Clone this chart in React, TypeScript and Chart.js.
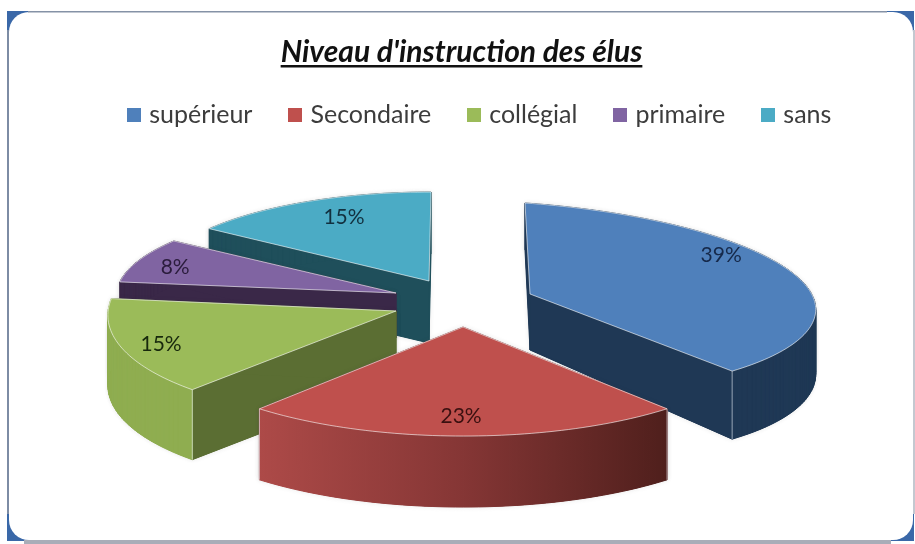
import React, { useEffect, useRef } from "react";
import { Chart, registerables } from "chart.js";

Chart.register(...registerables);

const TITLE = "Niveau d'instruction des élus";
const CATEGORIES = ["supérieur", "Secondaire", "collégial", "primaire", "sans"];
const VALUES = [39, 23, 15, 8, 15];
const COLORS = ["#4f80bb", "#bf504d", "#9bbb59", "#8064a2", "#4babc5"];
const WALLS = ["#1f3855", "#7a3030", "#5b6e33", "#3a2848", "#1f4f5b"];
const RIMS = ["#1f3855", "", "#8fad50", "#3a2848", "#1f4f5b"];
const LABEL_COLORS = ["#16294a", "#3a1010", "#17280c", "#2a1c3c", "#12303f"];
const RED_WALL_STOPS = ["#ad4a48", "#853635", "#4f1f1c"];

// Projection of each exploded slice: apex, unit vectors of the disc, perspective, wall depth.
const APEX = [[530, 294], [463, 327], [396, 311], [396, 293], [429, 281]];
const RIGHT = [[325.5, 10.3], [308, -3.4], [288, -1], [279, 0], [273, 0]];
const UP = [[-5.3, -96.2], [-10, -109], [9, -107], [6, -88.5], [2, -89]];
const PERSPECTIVE = [[0.142, 0.057], [0, 0], [0, 0], [0, 0], [0, 0]];
const DEPTH = [[56, 8, -9], [71, 0, 0], [70, 0, 0], [45, 0, 0], [62, 0, 0]];
const LABEL_RADIUS = [0.85, 0.82, 0.86, 0.85, 0.786];
const LABEL_SWEEP = [0.37, 0.506, 0.49, 0.45, 0.56];
const DRAW_ORDER = [4, 3, 2, 0, 1];

type P = [number, number];

function project(i: number, s: number, c: number): P {
  const w = 1 + PERSPECTIVE[i][0] * s + PERSPECTIVE[i][1] * c;
  return [
    APEX[i][0] + (s * RIGHT[i][0] + c * UP[i][0]) / w,
    APEX[i][1] + (s * RIGHT[i][1] + c * UP[i][1]) / w,
  ];
}

function depthAt(i: number, s: number, c: number) {
  return DEPTH[i][0] + DEPTH[i][1] * s + DEPTH[i][2] * c;
}

function sliceOutline(i: number, start: number, end: number) {
  const pts: { p: P; d: number }[] = [{ p: project(i, 0, 0), d: depthAt(i, 0, 0) }];
  const n = Math.max(12, Math.round((end - start) * 40));
  for (let k = 0; k <= n; k++) {
    const t = start + ((end - start) * k) / n + Math.PI / 2;
    const s = Math.sin(t);
    const c = Math.cos(t);
    pts.push({ p: project(i, s, c), d: depthAt(i, s, c) });
  }
  return pts;
}

const piePlugin = {
  id: "projectedPie",
  beforeDatasetsDraw(chart: any) {
    const ctx = chart.ctx;
    const arcs = chart.getDatasetMeta(0).data;
    const total = VALUES.reduce((a, b) => a + b, 0);
    for (const i of DRAW_ORDER) {
      const { startAngle, endAngle } = arcs[i].getProps(["startAngle", "endAngle"], true);
      const pts = sliceOutline(i, startAngle, endAngle);
      const ring = [...pts, pts[0]];

      let rim: any = RIMS[i];
      if (!rim) {
        const xs = pts.map((q) => q.p[0]);
        const g = ctx.createLinearGradient(Math.min(...xs), 0, Math.max(...xs), 0);
        RED_WALL_STOPS.forEach((col, k) => g.addColorStop(k / (RED_WALL_STOPS.length - 1), col));
        rim = g;
      }
      // the two cut faces first, then the curved rim in front of them
      const order: number[] = [0, ring.length - 2];
      for (let k = 1; k < ring.length - 2; k++) order.push(k);
      const quads = (shadow: boolean) => {
        ctx.save();
        if (shadow) {
          ctx.shadowColor = "rgba(60,60,60,0.14)";
          ctx.shadowBlur = 5;
        }
        ctx.lineWidth = 1;
        for (const k of order) {
          const isCut = k === 0 || k === ring.length - 2;
          const a = ring[k];
          const b = ring[k + 1];
          ctx.fillStyle = isCut ? WALLS[i] : rim;
          ctx.strokeStyle = ctx.fillStyle;
          ctx.beginPath();
          ctx.moveTo(a.p[0], a.p[1]);
          ctx.lineTo(b.p[0], b.p[1]);
          ctx.lineTo(b.p[0], b.p[1] + b.d);
          ctx.lineTo(a.p[0], a.p[1] + a.d);
          ctx.closePath();
          ctx.fill();
          if (!shadow) ctx.stroke();
        }
        ctx.restore();
      };
      quads(true);
      quads(false);

      // pale corner lines on the front of the wall
      ctx.save();
      ctx.strokeStyle = "rgba(235,240,248,0.6)";
      ctx.lineWidth = 1;
      for (const q of [pts[1], pts[pts.length - 1]]) {
        const t = q.p;
        if (t[1] > APEX[i][1] + 20) {
          ctx.beginPath();
          ctx.moveTo(t[0], t[1]);
          ctx.lineTo(t[0], t[1] + q.d);
          ctx.stroke();
        }
      }
      ctx.restore();

      // top face
      ctx.save();
      ctx.beginPath();
      pts.forEach((q, k) => (k ? ctx.lineTo(q.p[0], q.p[1]) : ctx.moveTo(q.p[0], q.p[1])));
      ctx.closePath();
      ctx.fillStyle = arcs[i].options.backgroundColor;
      ctx.fill();
      ctx.strokeStyle = "rgba(255,255,255,0.6)";
      ctx.lineWidth = 1;
      ctx.lineJoin = "round";
      ctx.stroke();
      ctx.restore();

      // percentage label
      const t = startAngle + (endAngle - startAngle) * LABEL_SWEEP[i] + Math.PI / 2;
      const [lx, ly] = project(i, Math.sin(t) * LABEL_RADIUS[i], Math.cos(t) * LABEL_RADIUS[i]);
      ctx.save();
      ctx.font = "21px Lato";
      ctx.textAlign = "center";
      ctx.textBaseline = "middle";
      ctx.fillStyle = LABEL_COLORS[i];
      ctx.fillText(`${Math.round((VALUES[i] / total) * 100)}%`, lx, ly);
      ctx.restore();
    }
    return false;
  },
};

const framePlugin = {
  id: "frame",
  beforeDraw(chart: any) {
    const ctx = chart.ctx;
    const { width, height } = chart;
    ctx.save();
    ctx.fillStyle = "#ffffff";
    ctx.fillRect(0, 0, width, height);
    ctx.fillStyle = "#3a68a8";
    ctx.fillRect(7, 11, width - 8, height - 14);
    ctx.fillStyle = "#ffffff";
    ctx.beginPath();
    ctx.roundRect(9, 12, width - 11, height - 16, 20);
    ctx.fill();
    ctx.fillStyle = "#7d8ca4";
    ctx.fillRect(7, 30, 2, height - 60);
    ctx.fillStyle = "#8592a6";
    ctx.fillRect(28, 11, width - 56, 1.5);
    ctx.fillStyle = "#c4c8d0";
    ctx.fillRect(width - 2, 30, 2, height - 60);
    ctx.fillStyle = "#a9adb8";
    ctx.fillRect(24, height - 4, width - 48, 4);
    ctx.restore();
  },
  afterLayout(chart: any) {
    // the legend sits to the right of the centred title and closer to it
    chart.legend.left += 20;
    chart.legend.right += 20;
    chart.legend.top -= 28;
    chart.legend.bottom -= 28;
  },
  afterDraw(chart: any) {
    const ctx = chart.ctx;
    const box = chart.titleBlock;
    const font = box.options.font;
    ctx.save();
    ctx.font = `${font.style} ${font.weight} ${font.size}px ${font.family}`;
    const w = ctx.measureText(TITLE).width;
    const cx = (box.left + box.right) / 2;
    ctx.fillStyle = "#111111";
    ctx.fillRect(cx - w / 2, box.bottom - box.options.padding.bottom - 5, w, 2.5);
    ctx.restore();
  },
};

export default function App() {
  const ref = useRef<HTMLCanvasElement>(null);
  useEffect(() => {
    const swatches = COLORS.map((col) => {
      const c = document.createElement("canvas");
      c.width = 14;
      c.height = 14;
      const g = c.getContext("2d")!;
      g.fillStyle = col;
      g.fillRect(0, 0, 14, 14);
      return c;
    });
    const chart = new Chart(ref.current!, {
      type: "pie",
      data: {
        labels: CATEGORIES,
        datasets: [{ data: VALUES, backgroundColor: COLORS, borderWidth: 0 }],
      },
      plugins: [framePlugin, piePlugin],
      options: {
        responsive: false,
        animation: false,
        events: [],
        layout: { padding: { top: 34, left: 8, right: 0, bottom: 20 } },
        plugins: {
          tooltip: { enabled: false },
          title: {
            display: true,
            text: TITLE,
            color: "#111111",
            font: { family: "Lato", size: 30, style: "italic", weight: "bold" },
            padding: { top: 0, bottom: 20 },
          },
          legend: {
            display: true,
            position: "top",
            labels: {
              usePointStyle: true,
              pointStyleWidth: 5,
              padding: 40.5,
              color: "#3c3c3c",
              font: { family: "Lato", size: 25 },
              generateLabels: (c: any) =>
                (Chart as any).overrides.pie.plugins.legend.labels
                  .generateLabels(c)
                  .map((l: any, i: number) => ({ ...l, pointStyle: swatches[i] })),
            },
          },
        },
      },
    } as any);
    return () => chart.destroy();
  }, []);
  return (
    <div style={{ position: "fixed", left: 0, top: 0, width: 915, height: 544 }}>
      <canvas ref={ref} width={915} height={544} style={{ display: "block", filter: "blur(0.4px)" }} />
    </div>
  );
}
